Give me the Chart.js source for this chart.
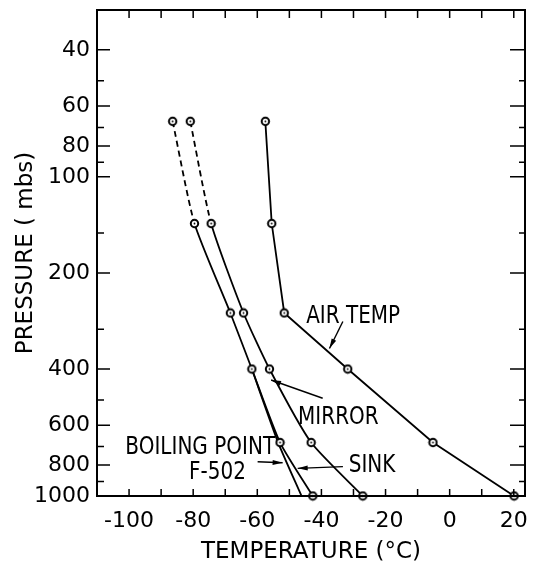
<!DOCTYPE html>
<html>
<head>
<meta charset="utf-8">
<script src="https://cdn.jsdelivr.net/npm/chart.js@4.4.1/dist/chart.umd.min.js"></script>
<style>
  body { margin: 0; background: #fff; }
  canvas { display: block; }
</style>
</head>
<body>
<canvas id="chart" width="534" height="564"></canvas>
<script>
// pressure levels (mbs) where readings were taken
const pressures = [67, 140, 267, 400, 680, 1000];
// temperatures (°C) at each level
const sinkTemps = [-86.4, -79.6, -68.4, -61.7, -52.9, -42.7];
const mirrorTemps = [-80.9, -74.4, -64.3, -56.2, -43.2, -27.1];
const airTemps = [-57.5, -55.5, -51.6, -31.8, -5.2, 20.1];
// F-502 boiling point curve (no markers)
const boilPressures = [400, 680, 1000];
const boilTemps = [-61.7, -53.5, -46.2];

const xTickLabels = [-100, -80, -60, -40, -20, 0, 20];
const xMinorTicks = [-100, -90, -80, -70, -60, -50, -40, -30, -20, -10, 0, 10, 20];
const yTickLabels = [40, 60, 80, 100, 200, 400, 600, 800, 1000];
const yMinorTicks = [40, 50, 60, 70, 80, 90, 100, 150, 200, 300, 400, 500, 600, 700, 800, 900];

const FONT = '"DejaVu Sans", sans-serif';

function pairs(xs, ys) {
  return xs.map((t, i) => ({ x: t, y: ys[i] }));
}

// circle-with-dot marker
function makeMarker() {
  const c = document.createElement("canvas");
  c.width = 11; c.height = 11;
  const g = c.getContext("2d");
  g.beginPath();
  g.arc(5.5, 5.5, 3.7, 0, Math.PI * 2);
  g.fillStyle = "#fff";
  g.fill();
  g.lineWidth = 2;
  g.strokeStyle = "#000";
  g.stroke();
  g.beginPath();
  g.arc(5.5, 5.5, 0.9, 0, Math.PI * 2);
  g.fillStyle = "#000";
  g.fill();
  return c;
}
const marker = makeMarker();

const dashFirst = {
  borderDash: ctx => (ctx.p0DataIndex === 0 ? [6, 4] : undefined)
};

// labels and arrows, in data coordinates
const labels = [
  { text: "AIR TEMP", x: -30.1, y: 273 },
  { text: "MIRROR", x: -34.7, y: 568 },
  { text: "SINK", x: -24.2, y: 800 },
  { text: "BOILING POINT", x: -77.8, y: 705 },
  { text: "F-502", x: -72.4, y: 844 }
];
const arrows = [
  { from: [-33.3, 284], to: [-37.5, 345] },
  { from: [-39.6, 494], to: [-55.7, 433] },
  { from: [-33.3, 809], to: [-47.4, 819] },
  { from: [-59.9, 781], to: [-52.1, 787] }
];

const frame = {
  id: "frame",
  afterDraw(chart) {
    const { ctx, chartArea: a, scales: { x, y } } = chart;
    ctx.save();
    ctx.strokeStyle = "#000";
    ctx.lineWidth = 1.5;
    ctx.beginPath();
    xMinorTicks.forEach(v => {
      const px = x.getPixelForValue(v);
      ctx.moveTo(px, a.bottom); ctx.lineTo(px, a.bottom - 7);
      ctx.moveTo(px, a.top); ctx.lineTo(px, a.top + 8);
    });
    yMinorTicks.forEach(v => {
      const py = y.getPixelForValue(v);
      const major = yTickLabels.includes(v);
      ctx.moveTo(a.left, py); ctx.lineTo(a.left + (major ? 13 : 7), py);
      ctx.moveTo(a.right, py); ctx.lineTo(a.right - (major ? 15 : 6), py);
    });
    ctx.stroke();
    ctx.lineWidth = 2;
    ctx.strokeRect(a.left, a.top, a.right - a.left, a.bottom - a.top);

    // condensed lettering for the curve labels
    ctx.fillStyle = "#000";
    ctx.font = "25px " + FONT;
    ctx.textAlign = "center";
    ctx.textBaseline = "middle";
    labels.forEach(l => {
      const px = x.getPixelForValue(l.x), py = y.getPixelForValue(l.y);
      ctx.save();
      ctx.translate(px, py);
      ctx.scale(0.8, 1);
      ctx.fillText(l.text, 0, 0);
      ctx.restore();
    });

    ctx.lineWidth = 1.4;
    arrows.forEach(ar => {
      const x0 = x.getPixelForValue(ar.from[0]), y0 = y.getPixelForValue(ar.from[1]);
      const x1 = x.getPixelForValue(ar.to[0]), y1 = y.getPixelForValue(ar.to[1]);
      const ang = Math.atan2(y1 - y0, x1 - x0);
      ctx.beginPath();
      ctx.moveTo(x0, y0); ctx.lineTo(x1, y1);
      ctx.stroke();
      ctx.beginPath();
      ctx.moveTo(x1, y1);
      ctx.lineTo(x1 - 10 * Math.cos(ang) + 2.5 * Math.sin(ang), y1 - 10 * Math.sin(ang) - 2.5 * Math.cos(ang));
      ctx.lineTo(x1 - 10 * Math.cos(ang) - 2.5 * Math.sin(ang), y1 - 10 * Math.sin(ang) + 2.5 * Math.cos(ang));
      ctx.closePath();
      ctx.fill();
    });
    ctx.restore();
  }
};

new Chart(document.getElementById("chart"), {
  type: "line",
  data: {
    datasets: [
      {
        label: "Sink",
        data: pairs(sinkTemps, pressures),
        borderColor: "#000", borderWidth: 1.8,
        pointStyle: marker, tension: 0.2,
        segment: dashFirst, clip: false
      },
      {
        label: "Mirror",
        data: pairs(mirrorTemps, pressures),
        borderColor: "#000", borderWidth: 1.8,
        pointStyle: marker, tension: 0.2,
        segment: dashFirst, clip: false
      },
      {
        label: "Air temp",
        data: pairs(airTemps, pressures),
        borderColor: "#000", borderWidth: 1.8,
        pointStyle: marker, tension: 0,
        clip: false
      },
      {
        label: "Boiling point F-502",
        data: pairs(boilTemps, boilPressures),
        borderColor: "#000", borderWidth: 1.8,
        pointRadius: 0, tension: 0.2
      }
    ]
  },
  options: {
    responsive: false,
    animation: false,
    layout: { padding: { top: 10, right: 9, left: 0, bottom: 0 } },
    plugins: { legend: { display: false }, tooltip: { enabled: false } },
    scales: {
      x: {
        type: "linear",
        min: -110, max: 23.5,
        grid: { display: false, drawTicks: false },
        border: { display: false },
        afterBuildTicks: s => { s.ticks = xTickLabels.map(v => ({ value: v })); },
        afterFit: s => { s.height = 68; s.paddingLeft = 0; s.paddingRight = 0; },
        ticks: {
          color: "#000", padding: 12, maxRotation: 0,
          font: { family: FONT, size: 22 },
          callback: v => String(v)
        },
        title: {
          display: true, text: "TEMPERATURE (°C)", color: "#000",
          font: { family: FONT, size: 23 }, padding: { top: 0, bottom: -2 }
        }
      },
      y: {
        type: "logarithmic",
        reverse: true,
        min: 30, max: 1000,
        grid: { display: false, drawTicks: false },
        border: { display: false },
        afterBuildTicks: s => { s.ticks = yTickLabels.map(v => ({ value: v })); },
        afterFit: s => { s.width = 97; s.paddingTop = 0; s.paddingBottom = 0; },
        ticks: {
          color: "#000", padding: 7,
          font: { family: FONT, size: 22 },
          callback: v => String(v)
        },
        title: {
          display: true, text: "PRESSURE ( mbs)", color: "#000",
          font: { family: FONT, size: 23 }, padding: { top: 12, bottom: 0 }
        }
      }
    }
  },
  plugins: [frame]
});
</script>
</body>
</html>
